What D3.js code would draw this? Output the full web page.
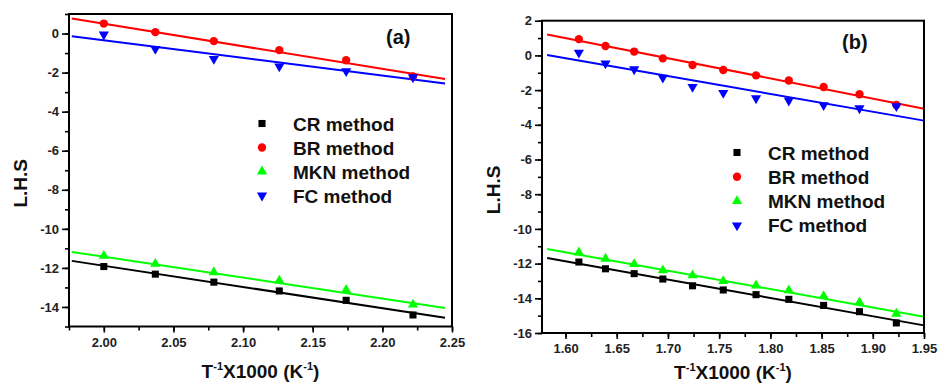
<!DOCTYPE html>
<html>
<head>
<meta charset="utf-8">
<script src="https://cdn.jsdelivr.net/npm/d3@7"></script>
<style>
  body { margin: 0; background: #fff; }
  svg { display: block; font-family: 'Liberation Sans', Arial, sans-serif; }
</style>
</head>
<body>
<div id="chart"></div>
<script>
// panel (a) data
const xA = [2.000, 2.037, 2.079, 2.126, 2.174, 2.222];
const crA = [-11.93, -12.32, -12.73, -13.18, -13.66, -14.41];
const brA = [0.51, 0.07, -0.39, -0.85, -1.37, -2.20];
const mknA = [-11.38, -11.79, -12.22, -12.65, -13.13, -13.88];
const fcA = [-0.05, -0.79, -1.30, -1.68, -1.93, -2.24];
const fitXA = [1.977, 2.245];
const crFitA = [-11.64, -14.55];
const brFitA = [0.77, -2.33];
const mknFitA = [-11.18, -14.05];
const fcFitA = [-0.14, -2.56];
const xTicksA = [2.00, 2.05, 2.10, 2.15, 2.20, 2.25];
const yTicksA = [0, -2, -4, -6, -8, -10, -12, -14];

// panel (b) data
const xB = [1.613, 1.639, 1.667, 1.695, 1.724, 1.754, 1.786, 1.818, 1.852, 1.887, 1.923];
const crB = [-11.91, -12.30, -12.58, -12.89, -13.28, -13.52, -13.79, -14.06, -14.41, -14.77, -15.42];
const brB = [0.94, 0.54, 0.22, -0.17, -0.55, -0.84, -1.15, -1.45, -1.82, -2.24, -2.86];
const mknB = [-11.36, -11.72, -12.03, -12.39, -12.68, -13.01, -13.26, -13.54, -13.87, -14.23, -14.89];
const fcB = [0.16, -0.46, -0.80, -1.28, -1.82, -2.16, -2.47, -2.60, -2.87, -3.05, -2.93];
const fitXB = [1.582, 1.95];
const crFitB = [-11.68, -15.56];
const brFitB = [1.21, -3.07];
const mknFitB = [-11.16, -15.06];
const fcFitB = [0.02, -3.76];
const xTicksB = [1.60, 1.65, 1.70, 1.75, 1.80, 1.85, 1.90, 1.95];
const yTicksB = [2, 0, -2, -4, -6, -8, -10, -12, -14, -16];

const seriesNames = ['CR method', 'BR method', 'MKN method', 'FC method'];
const colors = ['#000000', '#ff0000', '#00ff00', '#0000ff'];

const svg = d3.select('#chart')
  .append('svg')
  .attr('width', 938)
  .attr('height', 383);

svg.append('rect').attr('width', 938).attr('height', 383).attr('fill', '#fff');

// marker shapes: square, circle, up triangle, down triangle
const symbols = [
  { type: d3.symbolSquare, size: 50, rot: 0 },
  { type: d3.symbolCircle, size: 55, rot: 0 },
  { type: d3.symbolTriangle, size: 45, rot: 0 },
  { type: d3.symbolTriangle, size: 45, rot: 180 }
];

function drawMarker(g, i, cx, cy) {
  g.append('path')
    .attr('d', d3.symbol().type(symbols[i].type).size(symbols[i].size)())
    .attr('transform', `translate(${cx},${cy}) rotate(${symbols[i].rot})`)
    .attr('fill', colors[i]);
}

function renderPanel(p) {
  const x = d3.scaleLinear().domain(p.xDomain).range([p.left, p.right]);
  const y = d3.scaleLinear().domain(p.yDomain).range([p.bottom, p.top]);
  const g = svg.append('g');

  // minor ticks (no labels)
  const xMinor = d3.range(p.xTicks[0] - 0.025, p.xDomain[1] + 0.001, 0.025)
    .filter(v => v >= p.xDomain[0]);
  g.append('g')
    .attr('transform', `translate(0,${p.bottom})`)
    .call(d3.axisBottom(x).tickValues(xMinor).tickSize(4).tickFormat(''))
    .call(a => a.select('.domain').remove());
  const yMinor = d3.range(p.yDomain[0], p.yDomain[1] + 0.001, 1);
  g.append('g')
    .attr('transform', `translate(${p.left},0)`)
    .call(d3.axisLeft(y).tickValues(yMinor).tickSize(4).tickFormat(''))
    .call(a => a.select('.domain').remove());

  // major ticks
  g.append('g')
    .attr('transform', `translate(0,${p.bottom})`)
    .call(d3.axisBottom(x).tickValues(p.xTicks).tickSize(6).tickPadding(5).tickFormat(d3.format('.2f')))
    .call(a => a.select('.domain').remove());
  g.append('g')
    .attr('transform', `translate(${p.left},0)`)
    .call(d3.axisLeft(y).tickValues(p.yTicks).tickSize(7).tickPadding(3).tickFormat(d => String(d)))
    .call(a => a.select('.domain').remove());

  g.selectAll('.tick line').attr('stroke', '#000').attr('stroke-width', 1.6);
  g.selectAll('.tick text')
    .attr('fill', '#222')
    .style('font-size', '13px')
    .style('font-weight', 'bold')
    .style('font-family', "'Liberation Sans', Arial, sans-serif");

  // fit lines
  const line = d3.line().x(d => x(d[0])).y(d => y(d[1]));
  p.fits.forEach((f, i) => {
    g.append('path')
      .datum(p.fitX.map((v, j) => [v, f[j]]))
      .attr('d', line)
      .attr('fill', 'none')
      .attr('stroke', colors[i])
      .attr('stroke-width', 2);
  });

  // data points
  p.series.forEach((s, i) => {
    s.forEach((v, j) => drawMarker(g, i, x(p.xs[j]), y(v)));
  });

  // frame
  g.append('rect')
    .attr('x', p.left)
    .attr('y', p.top)
    .attr('width', p.right - p.left)
    .attr('height', p.bottom - p.top)
    .attr('fill', 'none')
    .attr('stroke', '#000')
    .attr('stroke-width', 2);

  // legend
  seriesNames.forEach((name, i) => {
    const cy = p.legendY + i * p.legendGap;
    drawMarker(g, i, p.legendX, cy);
    g.append('text')
      .attr('x', p.legendX + 31)
      .attr('y', cy + 7)
      .style('font-size', '19px')
      .style('font-weight', 'bold')
      .attr('fill', '#111')
      .text(name);
  });

  // panel tag
  g.append('text')
    .attr('x', p.tagX)
    .attr('y', p.tagY)
    .style('font-size', '20px')
    .style('font-weight', 'bold')
    .attr('fill', '#111')
    .text(p.tag);

  // y label
  g.append('text')
    .attr('transform', `translate(${p.yLabelX},${(p.top + p.bottom) / 2 + 13}) rotate(-90)`)
    .style('text-anchor', 'middle')
    .style('font-size', '19px')
    .style('font-weight', 'bold')
    .attr('fill', '#111')
    .text('L.H.S');

  // x label
  const xl = g.append('text')
    .attr('x', (p.left + p.right) / 2)
    .attr('y', p.xLabelY)
    .style('text-anchor', 'middle')
    .style('font-size', '19px')
    .style('font-weight', 'bold')
    .attr('fill', '#111');
  xl.append('tspan').text('T');
  xl.append('tspan').attr('dy', -8).style('font-size', '11px').text('-1');
  xl.append('tspan').attr('dy', 8).text('X1000 (K');
  xl.append('tspan').attr('dy', -8).style('font-size', '11px').text('-1');
  xl.append('tspan').attr('dy', 8).text(')');
}

renderPanel({
  left: 69, right: 452, top: 14, bottom: 326.5,
  xDomain: [1.975, 2.25], yDomain: [-15, 1],
  xTicks: xTicksA, yTicks: yTicksA,
  xs: xA, series: [crA, brA, mknA, fcA],
  fitX: fitXA, fits: [crFitA, brFitA, mknFitA, fcFitA],
  legendX: 262, legendY: 123.5, legendGap: 24,
  tag: '(a)', tagX: 386, tagY: 44,
  yLabelX: 26.5, xLabelY: 378
});

renderPanel({
  left: 542, right: 924, top: 20.7, bottom: 333,
  xDomain: [1.577, 1.95], yDomain: [-16, 2],
  xTicks: xTicksB, yTicks: yTicksB,
  xs: xB, series: [crB, brB, mknB, fcB],
  fitX: fitXB, fits: [crFitB, brFitB, mknFitB, fcFitB],
  legendX: 737, legendY: 152.5, legendGap: 24.3,
  tag: '(b)', tagX: 842, tagY: 49,
  yLabelX: 499.5, xLabelY: 378.5
});
</script>
</body>
</html>
